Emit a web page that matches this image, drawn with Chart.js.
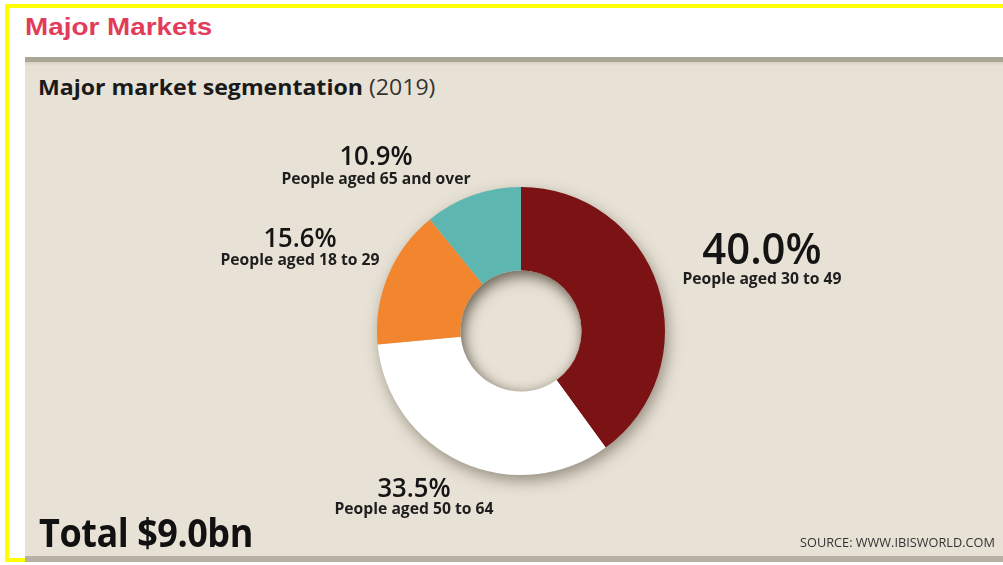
<!DOCTYPE html>
<html>
<head>
<meta charset="utf-8">
<title>Major Markets</title>
<script src="https://cdn.jsdelivr.net/npm/chart.js@4.4.1/dist/chart.umd.min.js"></script>
<style>
  html, body { margin: 0; padding: 0; }
  body { width: 1003px; height: 565px; position: relative; overflow: hidden; background: #ffffff; }
  .frame { position: absolute; left: 5px; top: 4px; width: 1000px; height: 558px; border-left: 4px solid #ffff00; border-top: 4px solid #ffff00; border-bottom: 4px solid #ffff00; box-sizing: border-box; }
  .heading { position: absolute; left: 25px; top: 13px; font-family: "Liberation Sans", Arial, sans-serif; font-weight: bold; font-size: 24px; color: #e23c5a; transform: scaleX(1.16); transform-origin: left top; white-space: nowrap; }
  .panel { position: absolute; left: 25px; top: 57px; width: 978px; height: 505px; background: #e8e2d6; border-top: 5px solid #a9a697; box-sizing: border-box; }
  .panel::before { content: ""; position: absolute; left: 0; right: 0; top: 0; height: 4px; background: linear-gradient(#d6d1c4, #e8e2d6); }
  .panel::after { content: ""; position: absolute; left: 0; right: 0; bottom: 0; height: 6px; background: #b7b1a3; }
  .subtitle { position: absolute; left: 38px; top: 73px; font-family: "Open Sans", sans-serif; font-size: 21px; color: #1a1a1a; white-space: nowrap; transform: scaleX(1.1); transform-origin: left top; }
  .subtitle b { font-weight: 700; }
  .subtitle span { font-weight: 400; color: #333; }
  .total { position: absolute; left: 39px; top: 504px; font-family: "Open Sans", sans-serif; font-weight: 700; font-size: 40px; color: #111; transform: scaleX(0.9); transform-origin: left top; white-space: nowrap; letter-spacing: -0.5px; }
  .source { position: absolute; left: 800px; top: 533px; font-family: "Open Sans", sans-serif; font-size: 13px; color: #333; transform: scaleX(0.98); transform-origin: left top; white-space: nowrap; }
  canvas { position: absolute; left: 0; top: 0; }
</style>
</head>
<body>
<div class="frame"></div>
<div class="heading">Major Markets</div>
<div class="panel"></div>
<div class="subtitle"><b>Major market segmentation</b> <span id="year"></span></div>
<canvas id="chart" width="1003" height="565"></canvas>
<div class="total" id="total"></div>
<div class="source">SOURCE: WWW.IBISWORLD.COM</div>
<script>
// Market segments by age group, share of revenue (%)
const segmentLabels = ['People aged 30 to 49', 'People aged 50 to 64', 'People aged 18 to 29', 'People aged 65 and over'];
const segmentShares = [40.0, 33.5, 15.6, 10.9];
const segmentColors = ['#7b1214', '#ffffff', '#f2862f', '#5db6af'];
const reportYear = 2019;
const totalRevenueBn = 9.0;

// Where each segment's caption sits, relative to the ring centre (baseline of the value line)
const captionOffsets = [
  { dx: 241, dy: -67, valueSize: 44, gap: 20 },
  { dx: -107, dy: 166, valueSize: 27, gap: 17 },
  { dx: -221, dy: -84, valueSize: 27, gap: 18 },
  { dx: -145, dy: -166, valueSize: 27, gap: 19 }
];

document.getElementById('year').textContent = '(' + reportYear + ')';
document.getElementById('total').textContent = 'Total $' + totalRevenueBn.toFixed(1) + 'bn';

// Soft drop shadow under the ring and an inset shadow inside the hole
const ringShadow = {
  id: 'ringShadow',
  beforeDatasetsDraw(chart) {
    const arc = chart.getDatasetMeta(0).data[0];
    if (!arc) return;
    const { x, y, outerRadius, innerRadius } = arc.getProps(['x', 'y', 'outerRadius', 'innerRadius'], true);
    const ctx = chart.ctx;
    ctx.save();
    ctx.shadowColor = 'rgba(70, 60, 45, 0.55)';
    ctx.shadowBlur = 16;
    ctx.shadowOffsetX = 3;
    ctx.shadowOffsetY = 6;
    ctx.beginPath();
    ctx.arc(x, y, outerRadius - 1, 0, Math.PI * 2);
    ctx.arc(x, y, innerRadius + 1, 0, Math.PI * 2, true);
    ctx.fillStyle = '#cfc8bb';
    ctx.fill('evenodd');
    ctx.restore();
  },
  afterDatasetsDraw(chart) {
    const arc = chart.getDatasetMeta(0).data[0];
    if (!arc) return;
    const { x, y, innerRadius } = arc.getProps(['x', 'y', 'innerRadius'], true);
    const ctx = chart.ctx;
    ctx.save();
    ctx.beginPath();
    ctx.arc(x, y, innerRadius, 0, Math.PI * 2);
    ctx.clip();
    ctx.shadowColor = 'rgba(70, 60, 45, 0.5)';
    ctx.shadowBlur = 12;
    ctx.shadowOffsetX = 2;
    ctx.shadowOffsetY = 3;
    ctx.beginPath();
    ctx.arc(x, y, innerRadius + 40, 0, Math.PI * 2);
    ctx.arc(x, y, innerRadius, 0, Math.PI * 2, true);
    ctx.fillStyle = '#e8e2d6';
    ctx.fill('evenodd');
    ctx.restore();
  }
};

// Value and age-group captions beside each segment
const segmentCaptions = {
  id: 'segmentCaptions',
  afterDraw(chart) {
    const meta = chart.getDatasetMeta(0);
    const ctx = chart.ctx;
    meta.data.forEach((arc, i) => {
      const pos = captionOffsets[i];
      const cx = arc.x + pos.dx;
      const cy = arc.y + pos.dy;
      const value = chart.data.datasets[0].data[i];
      ctx.save();
      ctx.fillStyle = '#141414';
      ctx.textAlign = 'center';
      ctx.textBaseline = 'alphabetic';
      ctx.translate(cx, cy);
      ctx.scale(0.95, 1);
      ctx.font = '600 ' + pos.valueSize + 'px "Open Sans", sans-serif';
      ctx.fillText(value.toFixed(1) + '%', 0, 0);
      ctx.restore();
      ctx.save();
      ctx.fillStyle = '#1e1e1e';
      ctx.textAlign = 'center';
      ctx.translate(cx, cy + pos.gap);
      ctx.scale(0.98, 1);
      ctx.font = '700 16px "Open Sans", sans-serif';
      ctx.fillText(chart.data.labels[i], 0, 0);
      ctx.restore();
    });
  }
};

new Chart(document.getElementById('chart'), {
  type: 'doughnut',
  data: {
    labels: segmentLabels,
    datasets: [{
      data: segmentShares,
      backgroundColor: segmentColors,
      borderWidth: 0,
      hoverOffset: 0
    }]
  },
  options: {
    responsive: false,
    animation: false,
    cutout: '42%',
    rotation: 0,
    layout: { padding: { left: 377, right: 338, top: 187, bottom: 90 } },
    plugins: {
      legend: { display: false },
      tooltip: { enabled: false }
    }
  },
  plugins: [ringShadow, segmentCaptions]
});
</script>
</body>
</html>
